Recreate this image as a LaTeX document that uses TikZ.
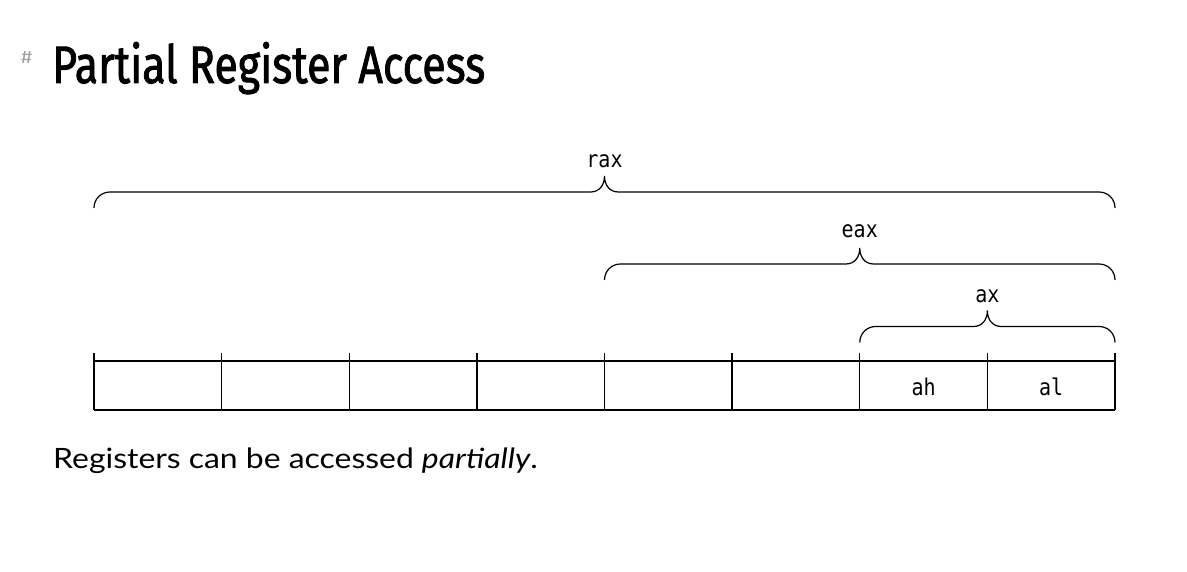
\documentclass[tikz,border=0pt]{standalone}
\usepackage{fontspec}
\usepackage{graphicx}
\setmainfont{Lato}
\newfontfamily\titlefont{Fira Sans}[FakeBold=1.8]
\newfontfamily\hashfont{Fira Sans}
\newfontfamily\regfont{DejaVu Sans Mono}
\definecolor{hashgray}{HTML}{A0A0A0}
\newcommand\regbrace[3]{%
  \draw[bracestyle] (#1,#3+16) .. controls (#1,#3+7) and (#1+7,#3) .. (#1+16,#3)
    -- ({(#1+#2)/2-14},#3) .. controls ({(#1+#2)/2-5},#3) and ({(#1+#2)/2},#3-7) .. ({(#1+#2)/2},#3-16)
    .. controls ({(#1+#2)/2},#3-7) and ({(#1+#2)/2+5},#3) .. ({(#1+#2)/2+14},#3)
    -- (#2-16,#3) .. controls (#2-7,#3) and (#2,#3+7) .. (#2,#3+16);}
\newcommand\monotext[1]{\scalebox{1}[1.15]{\regfont\fontsize{20}{20}\selectfont #1}}
\begin{document}
\begin{tikzpicture}[x=1pt,y=-1pt,
  bracestyle/.style={line width=1.2pt},
  cellline/.style={line width=1.4pt},
  reglabel/.style={anchor=base, inner sep=0pt},
  celllabel/.style={anchor=base, inner sep=0pt}]
\useasboundingbox[fill=white] (0,0) rectangle (1187,572);
% title
\node[anchor=base west, inner sep=0pt, text=hashgray] (hash) at (21,64) {\resizebox{11pt}{12pt}{\hashfont\#}};
\node[anchor=base west, inner sep=0pt] (title) at (52,83) {\resizebox{433pt}{41pt}{\titlefont Partial Register Access}};
% braces
\regbrace{94}{1115}{192}
\regbrace{604.5}{1115}{264}
\regbrace{859.75}{1115}{326.5}
\node[reglabel] (rax) at (604.5,168) {\monotext{rax}};
\node[reglabel] (eax) at (859.75,238) {\monotext{eax}};
\node[reglabel] (ax) at (987.4,302) {\monotext{ax}};
% register cells
\draw[cellline] (94,361) -- (1115,361);
\draw[cellline] (94,410) -- (1115,410);
\foreach \i in {0,...,8} {
  \draw[cellline] ({94+127.625*\i},353) -- ({94+127.625*\i},410);
}
\node[celllabel] (ah) at (923.6,395) {\monotext{ah}};
\node[celllabel] (al) at (1051.2,395) {\monotext{al}};
% caption
\node[anchor=base west, inner sep=0pt] (caption) at (53,468) {\scalebox{1.14}[1]{\fontsize{28}{28}\selectfont Registers can be accessed \textit{partially}.}};
\end{tikzpicture}
\end{document}
